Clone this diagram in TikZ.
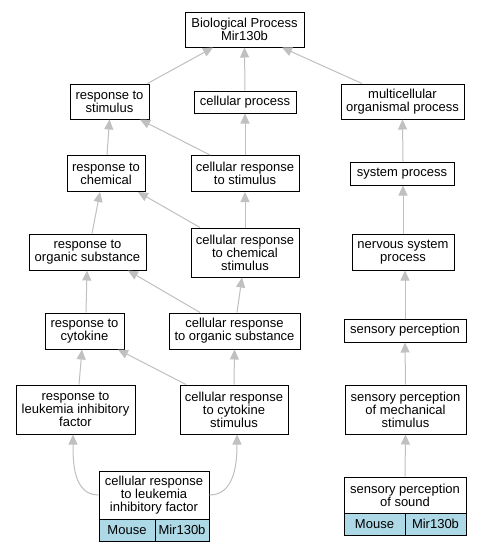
\documentclass[tikz,border=0pt]{standalone}
\usepackage{fontspec}
\setmainfont{Liberation Sans}
\usetikzlibrary{arrows.meta}
\definecolor{edgegray}{RGB}{192,192,192}
\definecolor{cellblue}{RGB}{173,216,230}
\begin{document}
\begin{tikzpicture}[x=1pt,y=-1pt,
  box/.style={draw=black,line width=1pt,fill=white,inner sep=0pt,align=center,
    font=\fontsize{13}{13}\selectfont},
  cell/.style={box,fill=cellblue},
  edge/.style={draw=edgegray,line width=1pt,-{Triangle[length=10pt,width=9pt]}}]
\useasboundingbox (0,0) rectangle (481,552);
\fill[white] (0,0) rectangle (481,552);
% nodes
\node[box,minimum width=119pt,minimum height=35pt] (bp) at (244.5,29.5) {Biological Process\\Mir130b};
\node[box,minimum width=79pt,minimum height=35pt] (rs) at (109.5,101.5) {response to\\stimulus};
\node[box,minimum width=102pt,minimum height=22pt] (cp) at (245,102) {cellular process};
\node[box,minimum width=123pt,minimum height=35pt] (mop) at (402.5,101.5) {multicellular\\organismal process};
\node[box,minimum width=78pt,minimum height=36pt] (rc) at (106,173.5) {response to\\chemical};
\node[box,minimum width=108pt,minimum height=36pt] (crs) at (245,173.5) {cellular response\\to stimulus};
\node[box,minimum width=104pt,minimum height=23pt] (sysp) at (402,173.5) {system process};
\node[box,minimum width=117pt,minimum height=36pt] (ros) at (87.5,252) {response to\\organic substance};
\node[box,minimum width=108pt,minimum height=49pt] (crcs) at (245,252.5) {cellular response\\to chemical\\stimulus};
\node[box,minimum width=102pt,minimum height=36pt] (nsp) at (403,252) {nervous system\\process};
\node[box,minimum width=79pt,minimum height=36pt] (rcyt) at (84.5,331) {response to\\cytokine};
\node[box,minimum width=131pt,minimum height=36pt] (cros) at (234.5,331) {cellular response\\to organic substance};
\node[box,minimum width=122pt,minimum height=23pt] (sensp) at (405,330.5) {sensory perception};
\node[box,minimum width=119pt,minimum height=49pt] (rlif) at (75.5,409.5) {response to\\leukemia inhibitory\\factor};
\node[box,minimum width=108pt,minimum height=49pt] (crcyts) at (234,409.5) {cellular response\\to cytokine\\stimulus};
\node[box,minimum width=121pt,minimum height=49pt] (spms) at (405.5,409.5) {sensory perception\\of mechanical\\stimulus};
\node[box,minimum width=110pt,minimum height=48pt] (crlif) at (154,495) {cellular response\\to leukemia\\inhibitory factor};
\node[cell,minimum width=56pt,minimum height=22pt] (crlifm) at (127,530) {Mouse};
\node[cell,minimum width=54pt,minimum height=22pt] (crlifg) at (182,530) {Mir130b};
\node[box,minimum width=122pt,minimum height=36pt] (spos) at (405,495) {sensory perception\\of sound};
\node[cell,minimum width=61pt,minimum height=22pt] (sposm) at (374.5,524) {Mouse};
\node[cell,minimum width=61pt,minimum height=22pt] (sposg) at (435.5,524) {Mir130b};
% edges
\draw[edge] ([xshift=-2pt]rs.north east) -- ([xshift=-31.5pt]bp.south);
\draw[edge] (cp.north) -- (bp.south);
\draw[edge] ([xshift=-40.5pt]mop.north) -- ([xshift=37.5pt]bp.south);
\draw[edge] ([xshift=1pt]rc.north) -- (rs.south);
\draw[edge] ([xshift=-35pt]crs.north) -- ([xshift=30.5pt]rs.south);
\draw[edge] (crs.north) -- (cp.north |- cp.south);
\draw[edge] ([xshift=1pt]sysp.north) -- (mop.south);
\draw[edge] ([xshift=4.5pt]ros.north) -- ([xshift=-6pt]rc.south);
\draw[edge] ([xshift=-45pt]crcs.north) -- ([xshift=32pt]rc.south);
\draw[edge] (crcs.north) -- (crs.south);
\draw[edge] (nsp.north) -- ([xshift=1pt]sysp.south);
\draw[edge] ([xshift=1.5pt]rcyt.north) -- ([xshift=-0.5pt]ros.south);
\draw[edge] ([xshift=-34.5pt]cros.north) -- ([xshift=40.5pt]ros.south);
\draw[edge] ([xshift=2.5pt]cros.north) -- ([xshift=-3pt]crcs.south);
\draw[edge] (sensp.north) -- ([xshift=2pt]nsp.south);
\draw[edge] ([xshift=3.5pt]rlif.north) -- ([xshift=-2.5pt]rcyt.south);
\draw[edge] ([xshift=-48pt]crcyts.north) -- ([xshift=33.5pt]rcyt.south);
\draw[edge] (crcyts.north) -- (cros.south);
\draw[edge] (spms.north) -- (sensp.south);
\draw[edge] (crlif.west) to[out=180,in=-90] ([xshift=-2.5pt]rlif.south);
\draw[edge] (crlif.east) to[out=0,in=-90] ([xshift=3pt]crcyts.south);
\draw[edge] (spos.north) -- (spms.south);
\end{tikzpicture}
\end{document}
